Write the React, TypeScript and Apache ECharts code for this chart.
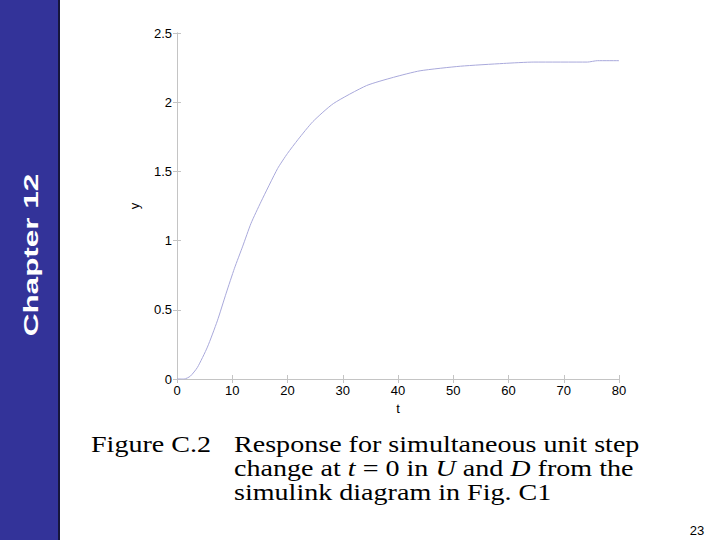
import React, { useEffect, useRef } from "react";
import * as echarts from "echarts";

const tValues = [0, 1.3, 2.4, 3.7, 5.5, 7.3, 8.9, 10.4, 11.9, 13.4, 15.2, 18.2, 20, 21.9, 24.6, 28.3, 34.3, 39.2, 44, 51.3, 59.1, 64.6, 74.3, 76.1, 80];
const yValues = [0, 0, 0.02, 0.084, 0.23, 0.42, 0.62, 0.8, 0.96, 1.125, 1.28, 1.52, 1.63, 1.73, 1.86, 1.99, 2.12, 2.18, 2.227, 2.26, 2.28, 2.29, 2.29, 2.3, 2.3];

const sideTitle = "Chapter 12";
const figureLabel = "Figure C.2";
const captionLines = [
  "Response for simultaneous unit step",
  "change at {i|t} = 0 in {i|U} and {i|D} from the",
  "simulink diagram in Fig. C1",
];
const pageNumber = "23";

const AXIS_COLOR = "#c4c4c4";
const LABEL_FONT = "'Liberation Sans', Arial, Helvetica, sans-serif";
const SERIF = "'Liberation Serif', 'Times New Roman', serif";
const CAP_SIZE = 24;
const CAP_SCALE_X = 1.17;

export default function App() {
  const ref = useRef<HTMLDivElement>(null);
  useEffect(() => {
    if (!ref.current) return;
    const chart = echarts.init(ref.current, undefined, { renderer: "svg" });
    const data = tValues.map((t, i) => [t, yValues[i]]);
    const axisCommon = {
      axisLine: { show: true, lineStyle: { color: AXIS_COLOR, width: 1 } },
      axisTick: { show: true, inside: true, length: 4, lineStyle: { color: AXIS_COLOR } },
      splitLine: { show: false },
    };
    chart.setOption({
      animation: false,
      backgroundColor: "#ffffff",
      grid: { left: 177, right: 101, top: 33, bottom: 161 },
      xAxis: [
        {
          type: "value",
          min: 0,
          max: 80,
          interval: 10,
          position: "bottom",
          name: "t",
          nameLocation: "middle",
          nameGap: 22,
          nameTextStyle: { color: "#000", fontSize: 13, fontFamily: LABEL_FONT },
          axisLabel: { color: "#000", fontSize: 13, fontFamily: LABEL_FONT, margin: 5 },
          ...axisCommon,
        },
        {
          type: "value",
          min: 0,
          max: 80,
          interval: 10,
          position: "top",
          axisLabel: { show: false },
          ...axisCommon,
        },
      ],
      yAxis: [
        {
          type: "value",
          min: 0,
          max: 2.5,
          interval: 0.5,
          position: "left",
          name: "y",
          nameLocation: "middle",
          nameGap: 36,
          nameTextStyle: { color: "#000", fontSize: 13, fontFamily: LABEL_FONT },
          axisLabel: { color: "#000", fontSize: 13, fontFamily: LABEL_FONT, margin: 5 },
          ...axisCommon,
        },
        {
          type: "value",
          min: 0,
          max: 2.5,
          interval: 0.5,
          position: "right",
          axisLabel: { show: false },
          ...axisCommon,
        },
      ],
      series: [
        {
          type: "line",
          data,
          xAxisIndex: 0,
          yAxisIndex: 0,
          showSymbol: false,
          smooth: 0.2,
          lineStyle: { color: "#a9a9db", width: 1 },
        },
      ],
      graphic: [
        { type: "rect", shape: { x: 0, y: 0, width: 59, height: 540 }, style: { fill: "#333399" } },
        { type: "rect", shape: { x: 58, y: 0, width: 2, height: 540 }, style: { fill: "#16163c" } },
        {
          type: "text",
          x: 31,
          y: 255,
          rotation: Math.PI / 2,
          scaleX: 1.5,
          style: {
            text: sideTitle,
            fill: "#ffffff",
            font: `bold 21px ${LABEL_FONT}`,
            align: "center",
            verticalAlign: "middle",
          },
        },
        {
          type: "text",
          x: 91,
          y: 444,
          scaleX: CAP_SCALE_X,
          style: {
            text: figureLabel,
            fill: "#000",
            font: `${CAP_SIZE}px ${SERIF}`,
            lineHeight: 24,
            align: "left",
            verticalAlign: "middle",
          },
        },
        ...captionLines.map((line, i) => ({
          type: "text",
          x: 234,
          y: 444 + i * 24,
          scaleX: CAP_SCALE_X,
          style: {
            text: line,
            fill: "#000",
            font: `${CAP_SIZE}px ${SERIF}`,
            lineHeight: 24,
            align: "left",
            verticalAlign: "middle",
            rich: {
              i: { fontStyle: "italic", fontSize: CAP_SIZE, fontFamily: SERIF, fill: "#000", lineHeight: 24 },
            },
          },
        })),
        {
          type: "text",
          x: 697,
          y: 530,
          style: {
            text: pageNumber,
            fill: "#000",
            font: `13px ${LABEL_FONT}`,
            align: "center",
            verticalAlign: "middle",
          },
        },
      ],
    });
    return () => chart.dispose();
  }, []);
  return (
    <div
      ref={ref}
      style={{ position: "fixed", left: 0, top: 0, width: 720, height: 540, background: "#fff" }}
    />
  );
}
